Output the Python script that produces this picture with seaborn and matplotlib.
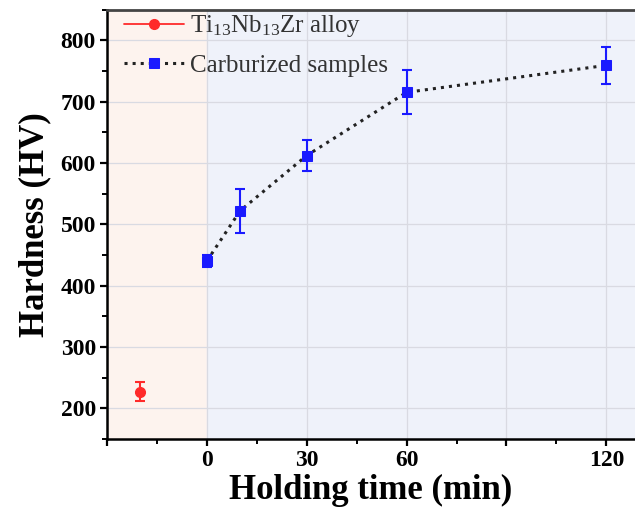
import numpy as np
import pandas as pd
import matplotlib
matplotlib.use("Agg")
import matplotlib.pyplot as plt
import seaborn as sns
from matplotlib.ticker import FixedLocator, MultipleLocator

# data
alloy_time = [-20]
alloy_hv = [227]
alloy_err = [15]

carb_time = [0, 10, 30, 60, 120]
carb_hv = [440, 522, 612, 715, 759]
carb_err = [10, 36, 25, 36, 30]

xtick_pos = [-30, 0, 30, 60, 90, 120]
xtick_lab = ["", "0", "30", "60", "", "120"]
ytick_pos = [200, 300, 400, 500, 600, 700, 800]

sns.set_style("white")
plt.rcParams["font.family"] = ["Liberation Serif", "DejaVu Serif"]
plt.rcParams["mathtext.fontset"] = "custom"
plt.rcParams["mathtext.rm"] = "Liberation Serif"
plt.rcParams["mathtext.it"] = "Liberation Serif"
plt.rcParams["text.color"] = "black"
plt.rcParams["axes.labelcolor"] = "black"
plt.rcParams["xtick.color"] = "black"
plt.rcParams["ytick.color"] = "black"

fig = plt.figure(figsize=(6.35, 5.17), dpi=100)
ax = fig.add_axes([0.1685, 0.151, 0.8315, 0.8306])

# shaded regions
ax.axvspan(-30, 0, color="#fdf3ee", zorder=0)
ax.axvspan(0, 140, color="#eff2fa", zorder=0)

df = pd.DataFrame({"t": carb_time, "hv": carb_hv})
sns.lineplot(data=df, x="t", y="hv", ax=ax, color="#222222", linestyle=":",
             linewidth=2.2, marker="s", markersize=6.5, markerfacecolor="#1a1aff",
             markeredgecolor="#1a1aff", zorder=4, label="Carburized samples")
ax.errorbar(carb_time, carb_hv, yerr=carb_err, fmt="none", ecolor="#1a1aff",
            elinewidth=1.5, capsize=3.6, capthick=1.5, zorder=5)

ax.errorbar(alloy_time, alloy_hv, yerr=alloy_err, fmt="none", ecolor="#ff2a2a",
            elinewidth=1.5, capsize=3.6, capthick=1.5, zorder=5)
h_alloy, = ax.plot(alloy_time, alloy_hv, color="#ff2a2a", marker="o", markersize=7,
                   linestyle="-", linewidth=1.3, zorder=6,
                   label=r"Ti$_{13}$Nb$_{13}$Zr alloy")

ax.set_xlim(-30, 128.6)
ax.set_ylim(150, 850)

ax.xaxis.set_major_locator(FixedLocator(xtick_pos))
ax.set_xticklabels(xtick_lab)
ax.xaxis.set_minor_locator(FixedLocator([-15, 15, 45, 75, 105]))
ax.yaxis.set_major_locator(FixedLocator(ytick_pos))
ax.yaxis.set_minor_locator(MultipleLocator(50))

ax.grid(True, which="major", color="#d9dae2", linewidth=0.9, zorder=1)
ax.set_axisbelow(True)

ax.tick_params(axis="both", which="major", direction="out", length=5, width=1.6,
               labelsize=17, color="black", labelcolor="black", pad=3)
ax.tick_params(axis="both", which="minor", direction="out", length=3.5, width=1.4,
               color="black")
ax.tick_params(left=True, bottom=True, which="both")
for lab in ax.get_xticklabels() + ax.get_yticklabels():
    lab.set_fontweight("bold")

for side in ["left", "bottom"]:
    ax.spines[side].set_color("black")
    ax.spines[side].set_linewidth(1.8)
ax.spines["top"].set_color("#444444")
ax.spines["top"].set_linewidth(2)
ax.spines["right"].set_visible(False)

ax.set_xlabel("Holding time (min)", fontsize=25, fontweight="bold", labelpad=2,
              color="black")
ax.set_ylabel("Hardness (HV)", fontsize=25, fontweight="bold", color="black")
ax.yaxis.set_label_coords(-0.106, 0.5)

handles, labels = ax.get_legend_handles_labels()
carb_handle = handles[labels.index("Carburized samples")]
ax.legend([h_alloy, carb_handle], [r"Ti$_{13}$Nb$_{13}$Zr alloy", "Carburized samples"],
          loc="upper left", bbox_to_anchor=(0.025, 1.0), frameon=False, fontsize=18,
          handlelength=2.4, handletextpad=0.25, labelspacing=0.6, borderaxespad=0.0,
          borderpad=0.15, labelcolor="#333333")

fig.savefig("out.png", dpi=100)
